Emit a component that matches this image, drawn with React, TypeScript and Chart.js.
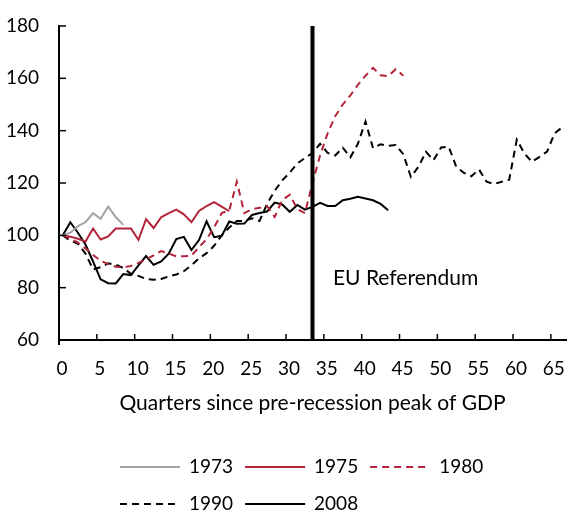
import React, { useEffect, useRef } from 'react';
import { Chart, registerables } from 'chart.js';

Chart.register(...registerables);

const FONT = 'Lato, "Open Sans", "DejaVu Sans", sans-serif';

// ---- Data (index value 100 at the pre-recession peak) ----
const seriesLabels = ['1973', '1975', '1980', '1990', '2008'];

const values1973 = [100, 101, 103.5, 105, 108.5, 106.3, 111, 107, 104];

const values1975 = [
  100, 99.5, 98.7, 97.6, 102.6, 98.4, 99.6, 102.6, 102.6, 102.6, 98.3, 106.2,
  102.8, 106.9, 108.5, 109.8, 108, 105, 109.3, 111.2, 112.7, 111, 109.2,
];

const values1980 = [
  100, 98.8, 97.2, 95, 92.5, 90.3, 89, 88, 87.8, 88.3, 89.5, 90.8, 92.3, 94, 93,
  92, 92, 92.2, 95.5, 98.5, 103, 108.5, 109.5, 120.5, 108.5, 110, 110.5, 111.2,
  107, 113.5, 115.5, 110, 108.5, 120, 130.5, 139, 145.5, 150, 153.5, 157.5, 161,
  164, 161.2, 160.8, 163.5, 161,
];

const values1990 = [
  100, 98, 96.8, 93, 87, 87.8, 89.3, 88.8, 87.5, 85.3, 84.5, 83.3, 83, 83.3,
  84.3, 85, 86.3, 88.5, 91.2, 93.2, 96, 100, 103, 105.5, 105.5, 106.5, 105.5,
  112, 117, 121, 124, 127.5, 129.5, 131.5, 135, 131.5, 130.5, 133.5, 129.8, 135,
  143.5, 133.3, 134.8, 134.2, 134.5, 131, 122.3, 126.2, 131.9, 128.7, 133.6,
  133.8, 126.2, 123.9, 122.6, 125.2, 120.5, 119.6, 120.5, 121.3, 136.6, 131.3,
  128.1, 130, 132, 139, 141.3,
];

const values2008 = [
  100, 105, 101, 96.5, 90, 83.2, 81.7, 81.6, 85.2, 84.8, 88.5, 92.1, 88.7, 90,
  93, 98.6, 99.4, 94.4, 98.2, 105.4, 99.3, 99.8, 105.3, 104.4, 104.5, 107.8,
  108.5, 109.1, 112.5, 111.8, 109, 111.6, 109.8, 110.9, 112.4, 111.2, 111.2,
  113.4, 114, 114.7, 114.1, 113.4, 112, 109.6,
];

const xTickValues = [0, 5, 10, 15, 20, 25, 30, 35, 40, 45, 50, 55, 60, 65];
const yTickValues = [60, 80, 100, 120, 140, 160, 180];
const xMin = 0;
const xMax = 67;
const yMin = 60;
const yMax = 180;

const referendumQuarter = 33.5;
const referendumLabel = 'EU Referendum';
const axisTitle = 'Quarters since pre-recession peak of GDP';

// quarters are plotted in the middle of each quarter's slot
const slotCentre = 0.5;
const toPoints = (values: number[]) =>
  values.map((v, i) => ({ x: i + slotCentre, y: v }));

const RED = '#b3243b';
const GREY = '#a3a3a3';
const BLACK = '#000000';
const DASH = [7, 5];

const legendRows = [[0, 1, 2], [3, 4]];

const overlayPlugin = {
  id: 'overlay',
  afterDatasetsDraw(chart: any) {
    const { ctx, scales } = chart;
    const xs = scales.x;
    const ys = scales.y;
    ctx.save();
    const rx = xs.getPixelForValue(referendumQuarter);
    ctx.strokeStyle = BLACK;
    ctx.lineWidth = 4;
    ctx.setLineDash([]);
    ctx.beginPath();
    ctx.moveTo(rx, ys.getPixelForValue(yMax));
    ctx.lineTo(rx, ys.getPixelForValue(yMin));
    ctx.stroke();

    ctx.font = `21px ${FONT}`;
    ctx.fillStyle = BLACK;
    ctx.textAlign = 'left';
    ctx.textBaseline = 'middle';
    ctx.fillText(referendumLabel, xs.getPixelForValue(36.2), ys.getPixelForValue(83.7));
    ctx.restore();
  },
  afterDraw(chart: any) {
    const { ctx, scales, chartArea } = chart;
    const xs = scales.x;
    const ys = scales.y;
    ctx.save();
    ctx.strokeStyle = BLACK;
    ctx.lineWidth = 1.5;
    ctx.setLineDash([]);
    // inward tick marks
    xTickValues.forEach((v) => {
      const px = xs.getPixelForValue(v);
      ctx.beginPath();
      ctx.moveTo(px, chartArea.bottom);
      ctx.lineTo(px, chartArea.bottom - 6);
      ctx.stroke();
    });
    yTickValues.forEach((v) => {
      const py = ys.getPixelForValue(v);
      ctx.beginPath();
      ctx.moveTo(chartArea.left, py);
      ctx.lineTo(chartArea.left + 7, py);
      ctx.stroke();
    });
    ctx.lineWidth = 2;
    ctx.beginPath();
    ctx.moveTo(chartArea.left, chartArea.bottom);
    ctx.lineTo(chartArea.left, chartArea.bottom + 5);
    ctx.stroke();

    // legend
    const rowY = [467, 504];
    const lineLen = 60;
    ctx.font = `19px ${FONT}`;
    ctx.textAlign = 'left';
    ctx.textBaseline = 'middle';
    legendRows.forEach((row, r) => {
      let x = 120;
      const y = rowY[r];
      row.forEach((idx) => {
        const ds = chart.data.datasets[idx];
        ctx.strokeStyle = ds.borderColor;
        ctx.lineWidth = 2;
        ctx.setLineDash(ds.borderDash || []);
        ctx.beginPath();
        ctx.moveTo(x, y);
        ctx.lineTo(x + lineLen, y);
        ctx.stroke();
        ctx.setLineDash([]);
        x += lineLen + 9;
        ctx.fillStyle = BLACK;
        ctx.fillText(ds.label, x, y);
        x += ctx.measureText(ds.label).width + 12;
      });
    });
    ctx.restore();
  },
};

export default function App() {
  const canvasRef = useRef<HTMLCanvasElement | null>(null);

  useEffect(() => {
    document.body.style.margin = '0';
    const canvas = canvasRef.current;
    if (!canvas) return;
    Chart.defaults.font.family = FONT;
    Chart.defaults.color = BLACK;

    const chart = new Chart(canvas, {
      type: 'line',
      data: {
        datasets: [
          { label: seriesLabels[0], data: toPoints(values1973), borderColor: GREY, borderWidth: 2 },
          { label: seriesLabels[1], data: toPoints(values1975), borderColor: RED, borderWidth: 2 },
          { label: seriesLabels[2], data: toPoints(values1980), borderColor: RED, borderWidth: 2, borderDash: DASH },
          { label: seriesLabels[3], data: toPoints(values1990), borderColor: BLACK, borderWidth: 2, borderDash: DASH },
          { label: seriesLabels[4], data: toPoints(values2008), borderColor: BLACK, borderWidth: 2 },
        ],
      },
      options: {
        animation: false,
        responsive: true,
        maintainAspectRatio: false,
        layout: { padding: { top: 26, right: 2, left: 0, bottom: 0 } },
        elements: {
          point: { radius: 0, hoverRadius: 0 },
          line: { tension: 0, fill: false, borderCapStyle: 'butt', borderJoinStyle: 'miter' },
        },
        plugins: {
          legend: { display: false },
          tooltip: { enabled: false },
        },
        scales: {
          x: {
            type: 'linear',
            min: xMin,
            max: xMax,
            afterBuildTicks: (s: any) => {
              s.ticks = xTickValues.map((v) => ({ value: v }));
            },
            afterFit: (s: any) => {
              s.height = 175;
              s.paddingLeft = 0;
              s.paddingRight = 0;
            },
            grid: { display: false, drawTicks: false },
            border: { display: true, color: BLACK, width: 2 },
            ticks: {
              padding: 17,
              labelOffset: 3,
              autoSkip: false,
              maxRotation: 0,
              color: BLACK,
              font: { size: 19 },
              callback: (v: any) => String(v),
            },
            title: {
              display: true,
              text: axisTitle,
              color: BLACK,
              font: { size: 21 },
              padding: { top: 0, bottom: 99 },
            },
          },
          y: {
            type: 'linear',
            min: yMin,
            max: yMax,
            afterBuildTicks: (s: any) => {
              s.ticks = yTickValues.map((v) => ({ value: v }));
            },
            afterFit: (s: any) => {
              s.width = 59;
              s.paddingTop = 0;
              s.paddingBottom = 0;
            },
            grid: { display: false, drawTicks: false },
            border: { display: true, color: BLACK, width: 2 },
            ticks: {
              padding: 20,
              color: BLACK,
              font: { size: 19 },
              callback: (v: any) => String(v),
            },
          },
        },
      },
      plugins: [overlayPlugin],
    } as any);

    return () => chart.destroy();
  }, []);

  return (
    <div style={{ width: 568, height: 515, position: 'relative', background: '#fff' }}>
      <canvas ref={canvasRef} />
    </div>
  );
}
